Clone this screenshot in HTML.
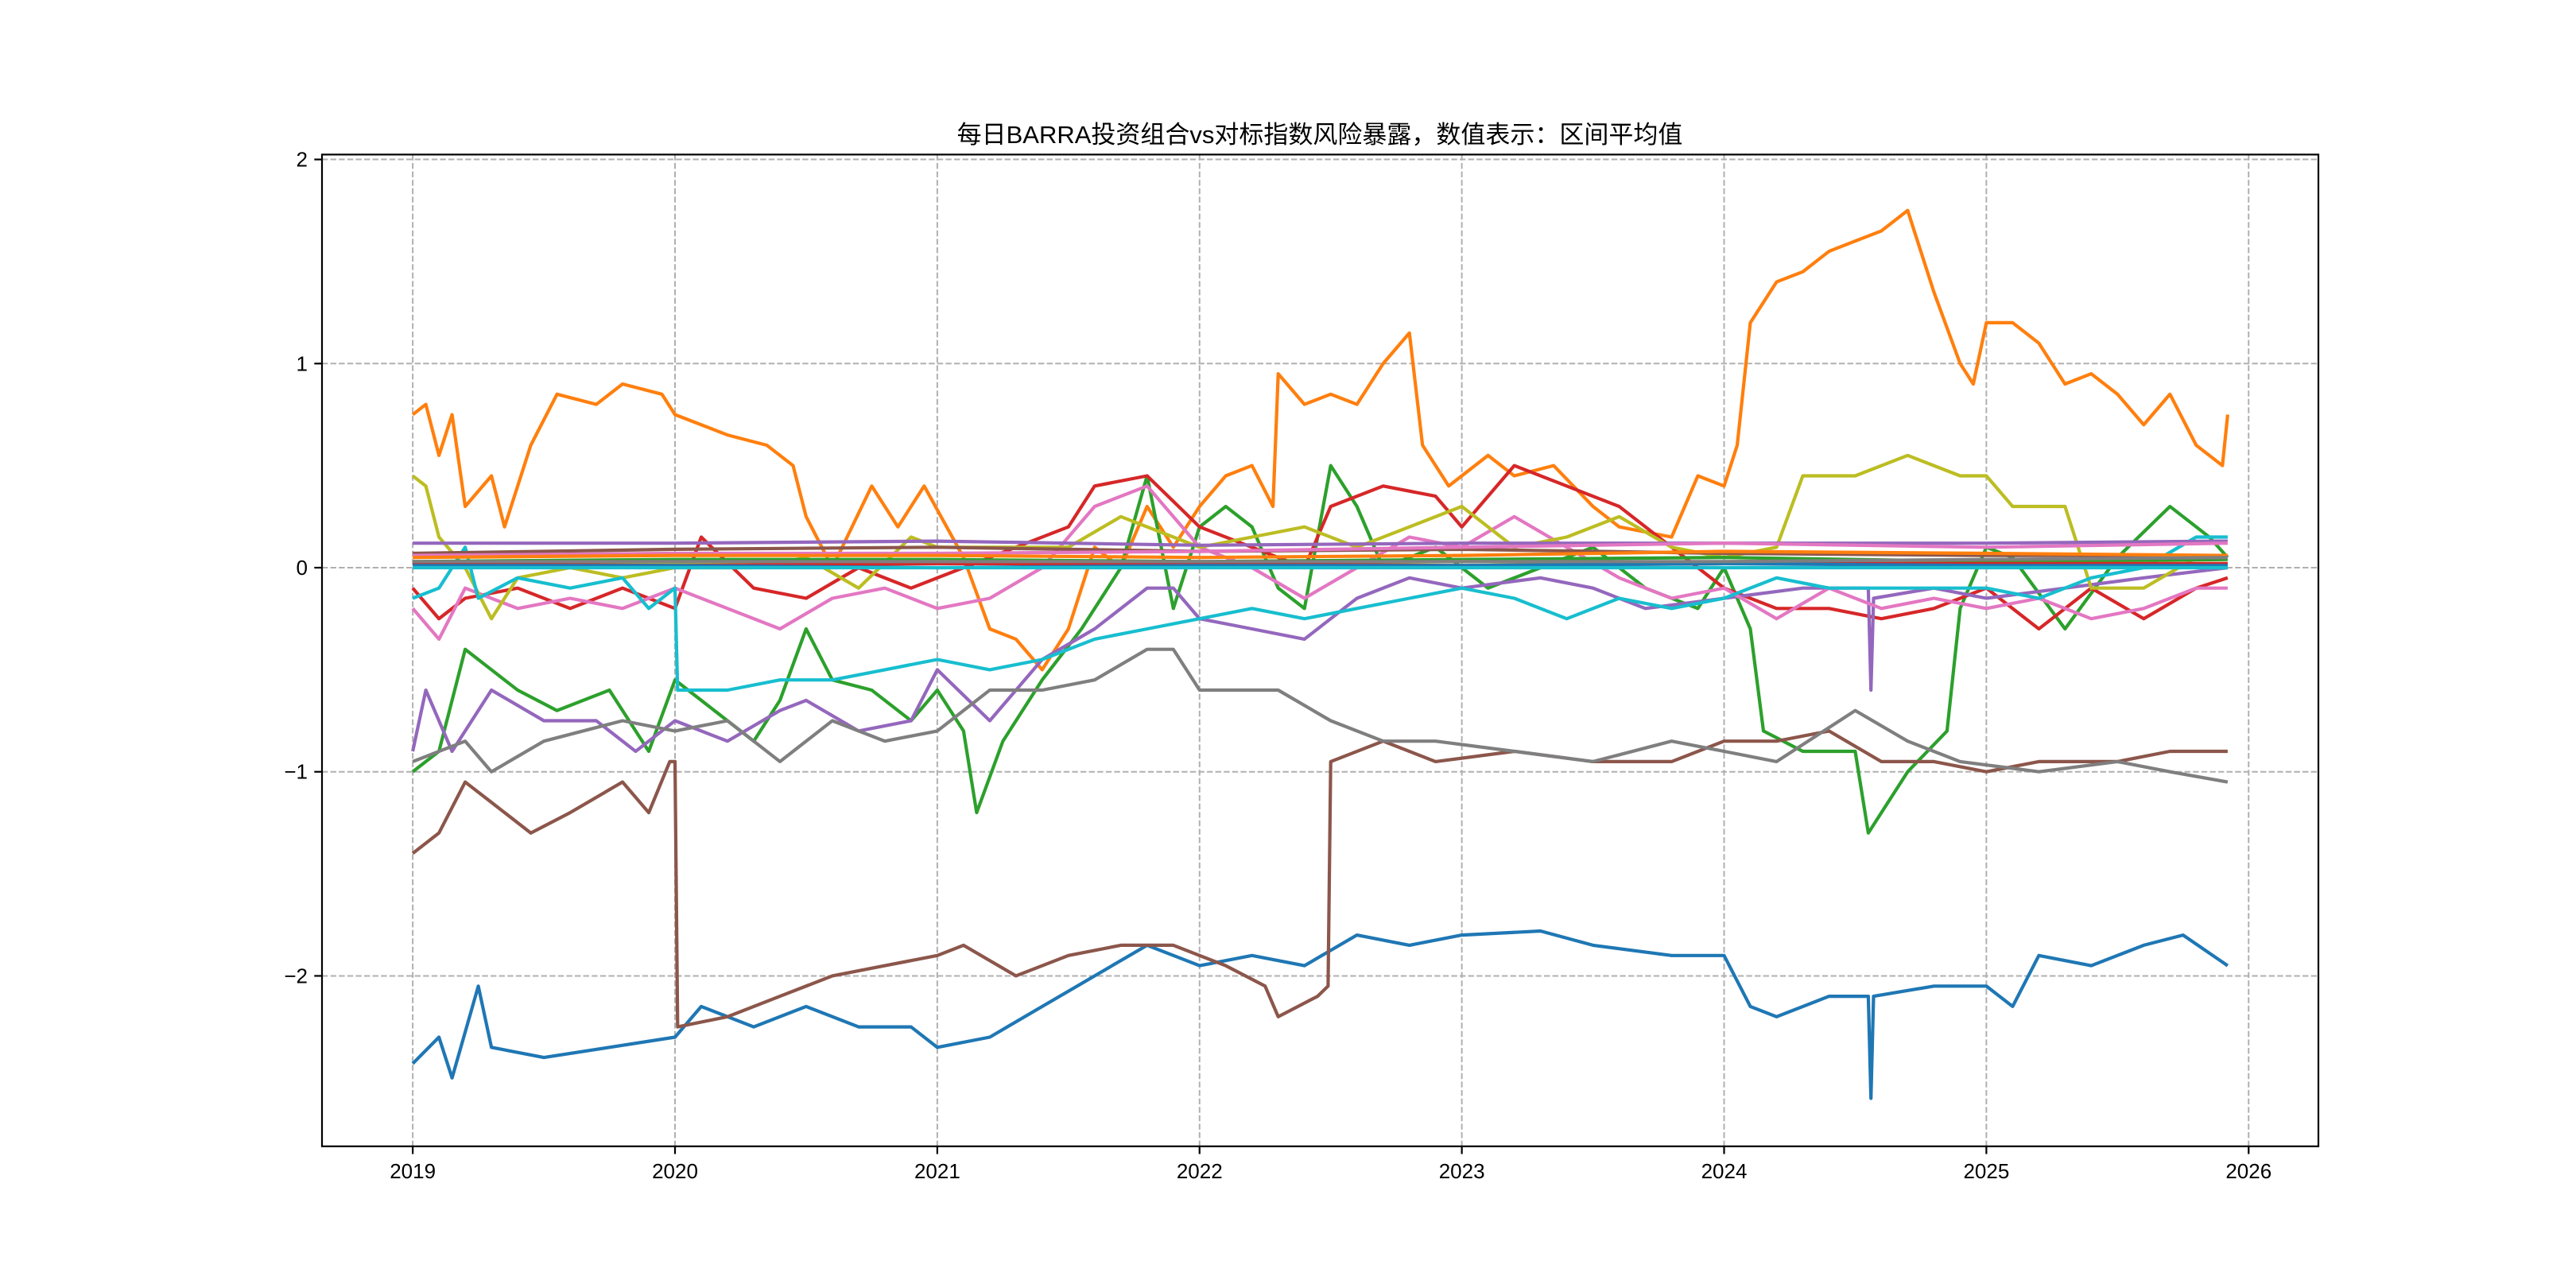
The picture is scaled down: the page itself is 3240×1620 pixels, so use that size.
<!DOCTYPE html>
<html><head><meta charset="utf-8">
<style>
html,body{margin:0;padding:0;background:#fff;}
svg{display:block;}
text{font-family:"Liberation Sans","Noto Sans CJK SC",sans-serif;}
</style></head>
<body>
<svg id="chart" width="3240" height="1620" viewBox="0 0 3240 1620" xmlns="http://www.w3.org/2000/svg">
<rect width="3240" height="1620" fill="#fff"/>
<text x="1660" y="180" font-size="31" text-anchor="middle" fill="#000">每日BARRA投资组合vs对标指数风险暴露，数值表示：区间平均值</text>
<g id="grid"></g>
<g id="series"></g>
<rect x="405" y="194.4" width="2511" height="1247.4" fill="none" stroke="#000" stroke-width="2.2"/>
<g id="axes"></g>
</svg>
<script>
const xTicks = [2019,2020,2021,2022,2023,2024,2025,2026];
const yTicks = [2,1,0,-1,-2];
const yTickLabels = ["2","1","0","−1","−2"];
const colors = ["#1f77b4","#ff7f0e","#2ca02c","#d62728","#9467bd","#8c564b","#e377c2","#7f7f7f","#bcbd22","#17becf"];

const blueT=[2019,2019.1,2019.15,2019.25,2019.3,2019.5,2019.75,2020,2020.1,2020.3,2020.5,2020.7,2020.9,2021,2021.2,2021.4,2021.6,2021.8,2022,2022.2,2022.4,2022.6,2022.8,2023,2023.3,2023.5,2023.8,2024,2024.1,2024.2,2024.4,2024.55,2024.56,2024.57,2024.8,2025,2025.1,2025.2,2025.4,2025.6,2025.75,2025.92];
const blueV=[-2.43,-2.3,-2.5,-2.05,-2.35,-2.4,-2.35,-2.3,-2.15,-2.25,-2.15,-2.25,-2.25,-2.35,-2.3,-2.15,-2.0,-1.85,-1.95,-1.9,-1.95,-1.8,-1.85,-1.8,-1.78,-1.85,-1.9,-1.9,-2.15,-2.2,-2.1,-2.1,-2.6,-2.1,-2.05,-2.05,-2.15,-1.9,-1.95,-1.85,-1.8,-1.95];

const orangeT=[2019,2019.05,2019.1,2019.15,2019.2,2019.3,2019.35,2019.45,2019.55,2019.7,2019.8,2019.95,2020,2020.2,2020.35,2020.45,2020.5,2020.6,2020.75,2020.85,2020.95,2021.1,2021.2,2021.3,2021.4,2021.5,2021.6,2021.7,2021.8,2021.9,2022,2022.1,2022.2,2022.28,2022.3,2022.4,2022.5,2022.6,2022.7,2022.8,2022.85,2022.95,2023.1,2023.2,2023.35,2023.5,2023.6,2023.8,2023.9,2024,2024.05,2024.1,2024.2,2024.3,2024.4,2024.5,2024.6,2024.7,2024.8,2024.9,2024.95,2025,2025.1,2025.2,2025.3,2025.4,2025.5,2025.6,2025.7,2025.8,2025.9,2025.92];
const orangeV=[0.75,0.8,0.55,0.75,0.3,0.45,0.2,0.6,0.85,0.8,0.9,0.85,0.75,0.65,0.6,0.5,0.25,0.0,0.4,0.2,0.4,0.05,-0.3,-0.35,-0.5,-0.3,0.1,0.0,0.3,0.1,0.3,0.45,0.5,0.3,0.95,0.8,0.85,0.8,1.0,1.15,0.6,0.4,0.55,0.45,0.5,0.3,0.2,0.15,0.45,0.4,0.6,1.2,1.4,1.45,1.55,1.6,1.65,1.75,1.35,1.0,0.9,1.2,1.2,1.1,0.9,0.95,0.85,0.7,0.85,0.6,0.5,0.75];

const greenT=[2019,2019.1,2019.2,2019.3,2019.4,2019.55,2019.75,2019.9,2020,2020.15,2020.3,2020.4,2020.5,2020.6,2020.75,2020.9,2021,2021.1,2021.15,2021.25,2021.4,2021.55,2021.7,2021.8,2021.9,2022,2022.1,2022.2,2022.3,2022.4,2022.5,2022.6,2022.7,2022.9,2023.1,2023.3,2023.5,2023.7,2023.9,2024,2024.1,2024.15,2024.3,2024.5,2024.55,2024.7,2024.85,2024.9,2025,2025.1,2025.3,2025.5,2025.7,2025.85,2025.92];
const greenV=[-1.0,-0.9,-0.4,-0.5,-0.6,-0.7,-0.6,-0.9,-0.55,-0.7,-0.85,-0.65,-0.3,-0.55,-0.6,-0.75,-0.6,-0.8,-1.2,-0.85,-0.55,-0.3,0.0,0.45,-0.2,0.2,0.3,0.2,-0.1,-0.2,0.5,0.3,0.0,0.1,-0.1,0.0,0.1,-0.1,-0.2,0.0,-0.3,-0.8,-0.9,-0.9,-1.3,-1.0,-0.8,-0.2,0.1,0.05,-0.3,0.05,0.3,0.15,0.05];

const redT=[2019,2019.1,2019.2,2019.4,2019.6,2019.8,2020,2020.1,2020.3,2020.5,2020.7,2020.9,2021.1,2021.3,2021.5,2021.6,2021.8,2022,2022.2,2022.4,2022.5,2022.7,2022.9,2023,2023.2,2023.4,2023.6,2023.8,2024,2024.2,2024.4,2024.6,2024.8,2025,2025.2,2025.4,2025.6,2025.8,2025.92];
const redV=[-0.1,-0.25,-0.15,-0.1,-0.2,-0.1,-0.2,0.15,-0.1,-0.15,0.0,-0.1,0.0,0.1,0.2,0.4,0.45,0.2,0.1,0.0,0.3,0.4,0.35,0.2,0.5,0.4,0.3,0.1,-0.1,-0.2,-0.2,-0.25,-0.2,-0.1,-0.3,-0.1,-0.25,-0.1,-0.05];

const purpleT=[2019,2019.05,2019.15,2019.3,2019.5,2019.7,2019.85,2020,2020.2,2020.4,2020.5,2020.7,2020.9,2021,2021.2,2021.4,2021.6,2021.8,2021.9,2022,2022.2,2022.4,2022.6,2022.8,2023,2023.3,2023.5,2023.7,2024,2024.3,2024.55,2024.56,2024.57,2024.8,2025,2025.3,2025.6,2025.92];
const purpleV=[-0.9,-0.6,-0.9,-0.6,-0.75,-0.75,-0.9,-0.75,-0.85,-0.7,-0.65,-0.8,-0.75,-0.5,-0.75,-0.45,-0.3,-0.1,-0.1,-0.25,-0.3,-0.35,-0.15,-0.05,-0.1,-0.05,-0.1,-0.2,-0.15,-0.1,-0.1,-0.6,-0.15,-0.1,-0.15,-0.1,-0.05,0.0];

const brownT=[2019,2019.1,2019.2,2019.3,2019.45,2019.6,2019.8,2019.9,2019.98,2020,2020.01,2020.2,2020.4,2020.6,2020.8,2021,2021.1,2021.3,2021.5,2021.7,2021.9,2022.1,2022.25,2022.3,2022.45,2022.49,2022.5,2022.7,2022.9,2023.2,2023.5,2023.8,2024,2024.2,2024.4,2024.6,2024.8,2025,2025.2,2025.5,2025.7,2025.92];
const brownV=[-1.4,-1.3,-1.05,-1.15,-1.3,-1.2,-1.05,-1.2,-0.95,-0.95,-2.25,-2.2,-2.1,-2.0,-1.95,-1.9,-1.85,-2.0,-1.9,-1.85,-1.85,-1.95,-2.05,-2.2,-2.1,-2.05,-0.95,-0.85,-0.95,-0.9,-0.95,-0.95,-0.85,-0.85,-0.8,-0.95,-0.95,-1.0,-0.95,-0.95,-0.9,-0.9];

const pinkT=[2019,2019.1,2019.2,2019.4,2019.6,2019.8,2020,2020.2,2020.4,2020.6,2020.8,2021,2021.2,2021.4,2021.6,2021.8,2022,2022.2,2022.4,2022.6,2022.8,2023,2023.2,2023.4,2023.6,2023.8,2024,2024.2,2024.4,2024.6,2024.8,2025,2025.2,2025.4,2025.6,2025.8,2025.92];
const pinkV=[-0.2,-0.35,-0.1,-0.2,-0.15,-0.2,-0.1,-0.2,-0.3,-0.15,-0.1,-0.2,-0.15,0.0,0.3,0.4,0.1,0.0,-0.15,0.0,0.15,0.1,0.25,0.1,-0.05,-0.15,-0.1,-0.25,-0.1,-0.2,-0.15,-0.2,-0.15,-0.25,-0.2,-0.1,-0.1];

const grayT=[2019,2019.2,2019.3,2019.5,2019.8,2020,2020.2,2020.4,2020.6,2020.8,2021,2021.2,2021.4,2021.6,2021.8,2021.9,2022,2022.3,2022.5,2022.7,2022.9,2023.2,2023.5,2023.8,2024,2024.2,2024.5,2024.7,2024.9,2025.2,2025.5,2025.7,2025.92];
const grayV=[-0.95,-0.85,-1.0,-0.85,-0.75,-0.8,-0.75,-0.95,-0.75,-0.85,-0.8,-0.6,-0.6,-0.55,-0.4,-0.4,-0.6,-0.6,-0.75,-0.85,-0.85,-0.9,-0.95,-0.85,-0.9,-0.95,-0.7,-0.85,-0.95,-1.0,-0.95,-1.0,-1.05];

const oliveT=[2019,2019.05,2019.1,2019.2,2019.3,2019.4,2019.6,2019.8,2020,2020.3,2020.5,2020.7,2020.9,2021,2021.3,2021.5,2021.7,2021.9,2022,2022.2,2022.4,2022.6,2022.8,2023,2023.2,2023.4,2023.6,2023.8,2024,2024.2,2024.3,2024.5,2024.7,2024.9,2025,2025.1,2025.3,2025.4,2025.6,2025.8,2025.92];
const oliveV=[0.45,0.4,0.15,0.0,-0.25,-0.05,0.0,-0.05,0.0,0.0,0.05,-0.1,0.15,0.1,0.1,0.1,0.25,0.15,0.1,0.15,0.2,0.1,0.2,0.3,0.1,0.15,0.25,0.1,0.05,0.1,0.45,0.45,0.55,0.45,0.45,0.3,0.3,-0.1,-0.1,0.05,0.05];

const cyanT=[2019,2019.1,2019.2,2019.25,2019.4,2019.6,2019.8,2019.9,2020,2020.01,2020.2,2020.4,2020.6,2020.8,2021,2021.2,2021.4,2021.6,2021.8,2022,2022.2,2022.4,2022.6,2022.8,2023,2023.2,2023.4,2023.6,2023.8,2024,2024.2,2024.4,2024.6,2024.8,2025,2025.2,2025.4,2025.6,2025.8,2025.92];
const cyanV=[-0.15,-0.1,0.1,-0.15,-0.05,-0.1,-0.05,-0.2,-0.1,-0.6,-0.6,-0.55,-0.55,-0.5,-0.45,-0.5,-0.45,-0.35,-0.3,-0.25,-0.2,-0.25,-0.2,-0.15,-0.1,-0.15,-0.25,-0.15,-0.2,-0.15,-0.05,-0.1,-0.1,-0.1,-0.1,-0.15,-0.05,0.0,0.15,0.15];

// near-zero factors
const flatT=[2019,2020,2021,2022,2023,2024,2025,2025.92];
const flatPurpleV=[0.12,0.12,0.13,0.11,0.12,0.12,0.12,0.13];
const flatBrownV=[0.07,0.09,0.1,0.08,0.09,0.07,0.06,0.06];
const flatPinkV=[0.06,0.07,0.07,0.08,0.1,0.12,0.1,0.12];
const flatOrangeV=[0.05,0.06,0.06,0.05,0.06,0.08,0.07,0.06];
const flatGreenV=[0.03,0.04,0.04,0.03,0.04,0.05,0.03,0.04];
const flatOliveV=[0.02,0.02,0.03,0.02,0.03,0.02,0.02,0.02];
const flatRedV=[0.02,0.01,0.02,0.02,0.01,0.02,0.02,0.02];
const flatBlueV=[0.01,0.01,0.0,0.01,0.01,0.02,0.01,0.01];
const flatGrayV=[0.03,0.03,0.03,0.03,0.03,0.03,0.04,0.05];
const flatCyanV=[0.0,0.0,0.0,0.0,0.0,0.0,0.0,0.0];

const NS="http://www.w3.org/2000/svg";
const L=405,R=2916,T=194.4,B=1441.8;
const xMin=2018.654,xMax=2026.266,yMin=-2.835,yMax=2.024;
function xs(v){return L+(v-xMin)/(xMax-xMin)*(R-L);}
function ys(v){return B-(v-yMin)/(yMax-yMin)*(B-T);}

const grid=document.getElementById('grid');
const axes=document.getElementById('axes');
xTicks.forEach(t=>{
  const g=document.createElementNS(NS,'line');
  
  
  g.setAttribute('x1',xs(t));g.setAttribute('x2',xs(t));g.setAttribute('y1',T);g.setAttribute('y2',B);
  g.setAttribute('stroke','#b0b0b0');g.setAttribute('stroke-width','2');g.setAttribute('stroke-dasharray','7.4,3.2');
  grid.appendChild(g);
  const tk=document.createElementNS(NS,'line');
  
  
  tk.setAttribute('x1',xs(t));tk.setAttribute('x2',xs(t));tk.setAttribute('y1',B);tk.setAttribute('y2',B+9.7);
  tk.setAttribute('stroke','#000');tk.setAttribute('stroke-width','2.2');
  axes.appendChild(tk);
  const lb=document.createElementNS(NS,'text');
  
  
  lb.setAttribute('x',xs(t));lb.setAttribute('y',B+40);lb.setAttribute('font-size','26');lb.setAttribute('text-anchor','middle');
  lb.textContent=String(t);
  axes.appendChild(lb);
});
yTicks.forEach((t,i)=>{
  const g=document.createElementNS(NS,'line');
  
  
  g.setAttribute('x1',L);g.setAttribute('x2',R);g.setAttribute('y1',ys(t));g.setAttribute('y2',ys(t));
  g.setAttribute('stroke','#b0b0b0');g.setAttribute('stroke-width','2');g.setAttribute('stroke-dasharray','7.4,3.2');
  grid.appendChild(g);
  const tk=document.createElementNS(NS,'line');
  
  
  tk.setAttribute('x1',L-9.7);tk.setAttribute('x2',L);tk.setAttribute('y1',ys(t));tk.setAttribute('y2',ys(t));
  tk.setAttribute('stroke','#000');tk.setAttribute('stroke-width','2.2');
  axes.appendChild(tk);
  const lb=document.createElementNS(NS,'text');
  
  
  lb.setAttribute('x',L-18);lb.setAttribute('y',ys(t)+9);lb.setAttribute('font-size','26');lb.setAttribute('text-anchor','end');
  lb.textContent=yTickLabels[i];
  axes.appendChild(lb);
});

const seriesG=document.getElementById('series');
function draw(name,T_,V,color){
  const p=document.createElementNS(NS,'polyline');
  
  
  p.setAttribute('points',T_.map((t,i)=>xs(t).toFixed(1)+','+ys(V[i]).toFixed(1)).join(' '));
  p.setAttribute('fill','none');p.setAttribute('stroke',color);p.setAttribute('stroke-width','4.2');
  p.setAttribute('stroke-linejoin','round');
  seriesG.appendChild(p);
}
draw('series-blue',blueT,blueV,colors[0]);
draw('series-orange',orangeT,orangeV,colors[1]);
draw('series-green',greenT,greenV,colors[2]);
draw('series-red',redT,redV,colors[3]);
draw('series-purple',purpleT,purpleV,colors[4]);
draw('series-brown',brownT,brownV,colors[5]);
draw('series-pink',pinkT,pinkV,colors[6]);
draw('series-gray',grayT,grayV,colors[7]);
draw('series-olive',oliveT,oliveV,colors[8]);
draw('series-cyan',cyanT,cyanV,colors[9]);
draw('series-flat-purple',flatT,flatPurpleV,colors[4]);
draw('series-flat-brown',flatT,flatBrownV,colors[5]);
draw('series-flat-pink',flatT,flatPinkV,colors[6]);
draw('series-flat-orange',flatT,flatOrangeV,colors[1]);
draw('series-flat-green',flatT,flatGreenV,colors[2]);
draw('series-flat-olive',flatT,flatOliveV,colors[8]);
draw('series-flat-red',flatT,flatRedV,colors[3]);
draw('series-flat-blue',flatT,flatBlueV,colors[0]);
draw('series-flat-gray',flatT,flatGrayV,colors[7]);
draw('series-flat-cyan',flatT,flatCyanV,colors[9]);
</script>
</body></html>
